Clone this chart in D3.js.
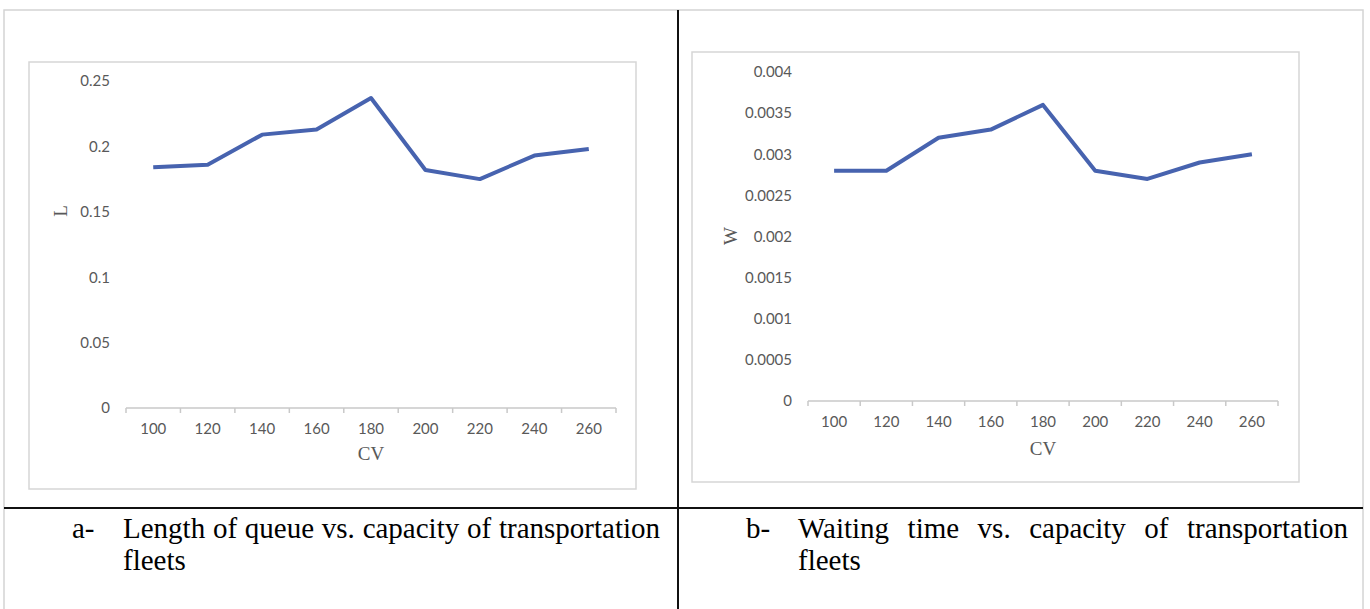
<!DOCTYPE html>
<html>
<head>
<meta charset="utf-8">
<script src="https://cdn.jsdelivr.net/npm/d3@7/dist/d3.min.js"></script>
<style>
  html, body { margin: 0; padding: 0; background: #fff; }
  svg { display: block; }
</style>
</head>
<body>
<svg id="fig" width="1370" height="609"></svg>
<script>
// Capacity of transportation fleets (CV)
const cvValues = [100, 120, 140, 160, 180, 200, 220, 240, 260];
// Length of queue L for each capacity
const queueLength = [0.184, 0.186, 0.209, 0.213, 0.237, 0.182, 0.175, 0.193, 0.198];
// Waiting time W for each capacity
const waitingTime = [0.0028, 0.0028, 0.0032, 0.0033, 0.0036, 0.0028, 0.0027, 0.0029, 0.0030];

const lTicks = [0, 0.05, 0.1, 0.15, 0.2, 0.25];
const lTickLabels = ["0", "0.05", "0.1", "0.15", "0.2", "0.25"];
const wTicks = [0, 0.0005, 0.001, 0.0015, 0.002, 0.0025, 0.003, 0.0035, 0.004];
const wTickLabels = ["0", "0.0005", "0.001", "0.0015", "0.002", "0.0025", "0.003", "0.0035", "0.004"];

const captionA = ["a-", "Length of queue vs. capacity of transportation", "fleets"];
const captionB = ["b-", "Waiting time vs. capacity of transportation", "fleets"];

const svg = d3.select("#fig");
const LINE = "#4763af";
const GREY_TEXT = "#595959";
const SERIF = '"Liberation Serif", "Times New Roman", "DejaVu Serif", serif';
const SANS = 'Lato, "Open Sans", sans-serif';

// ---- table frame ----
const frame = svg.append("g");
frame.append("rect").attr("x", 4).attr("y", 10).attr("width", 1359).attr("height", 620)
  .attr("fill", "none").attr("stroke", "#d4d4d4").attr("stroke-width", 1.5);
frame.append("line").attr("x1", 678).attr("x2", 678).attr("y1", 10).attr("y2", 609)
  .attr("stroke", "#111").attr("stroke-width", 2);
frame.append("line").attr("x1", 4).attr("x2", 1363).attr("y1", 508).attr("y2", 508)
  .attr("stroke", "#111").attr("stroke-width", 2);

function drawChart(cfg) {
  const g = svg.append("g");
  // chart area border
  g.append("rect").attr("x", cfg.box[0]).attr("y", cfg.box[1])
    .attr("width", cfg.box[2] - cfg.box[0]).attr("height", cfg.box[3] - cfg.box[1])
    .attr("fill", "#fff").attr("stroke", "#d6d6d6").attr("stroke-width", 1.5);

  const x = d3.scaleBand().domain(cvValues).range(cfg.xRange).padding(0);
  const y = d3.scaleLinear().domain([0, cfg.yMax]).range(cfg.yRange);
  const y0 = y(0);

  // y tick labels
  const yAxis = d3.axisLeft(y).tickValues(cfg.ticks).tickSize(0).tickPadding(16)
    .tickFormat((d, i) => cfg.tickLabels[i]);
  const ya = g.append("g").attr("transform", `translate(${cfg.xRange[0]},0)`).call(yAxis);
  ya.select(".domain").remove();
  ya.selectAll("text").style("font-family", SANS).style("font-size", "15px").attr("fill", GREY_TEXT);

  // x axis: baseline with boundary ticks, labels centred in each band
  g.append("line").attr("x1", cfg.xRange[0]).attr("x2", cfg.xRange[1])
    .attr("y1", y0).attr("y2", y0).attr("stroke", "#c9c9c9").attr("stroke-width", 1.5);
  const bounds = cvValues.map(v => x(v)).concat([cfg.xRange[1]]);
  g.selectAll("line.bt").data(bounds).join("line").attr("class", "bt")
    .attr("x1", d => d).attr("x2", d => d).attr("y1", y0).attr("y2", y0 + 5)
    .attr("stroke", "#c9c9c9").attr("stroke-width", 1.5);
  const xAxis = d3.axisBottom(x).tickSize(0).tickPadding(cfg.xLabelPad);
  const xa = g.append("g").attr("transform", `translate(0,${y0})`).call(xAxis);
  xa.select(".domain").remove();
  xa.selectAll("text").style("font-family", SANS).style("font-size", "15px").attr("fill", GREY_TEXT);

  // axis titles
  g.append("text").attr("x", d3.mean(cfg.xRange)).attr("y", cfg.cvY)
    .attr("text-anchor", "middle").style("font-family", SERIF).style("font-size", "19px")
    .attr("fill", GREY_TEXT).text("CV");
  g.append("text")
    .attr("transform", `translate(${cfg.yTitle[0]},${cfg.yTitle[1]}) rotate(-90)`)
    .attr("text-anchor", "middle").attr("dominant-baseline", "central")
    .style("font-family", SERIF).style("font-size", "19px").attr("fill", GREY_TEXT).text(cfg.yName);

  // data line
  const line = d3.line().x((d, i) => x(cvValues[i]) + x.bandwidth() / 2).y(d => y(d));
  g.append("path").datum(cfg.values).attr("d", line)
    .attr("fill", "none").attr("stroke", LINE).attr("stroke-width", 4)
    .attr("stroke-linejoin", "round").attr("stroke-linecap", "butt");
}

drawChart({
  box: [29, 62, 636, 489], xRange: [126, 616], yRange: [408, 81], yMax: 0.25,
  ticks: lTicks, tickLabels: lTickLabels, values: queueLength,
  xLabelPad: 15, cvY: 460, yTitle: [60, 211], yName: "L"
});
drawChart({
  box: [692, 52, 1299, 482], xRange: [808, 1278], yRange: [401, 72], yMax: 0.004,
  ticks: wTicks, tickLabels: wTickLabels, values: waitingTime,
  xLabelPad: 15, cvY: 455, yTitle: [730, 236], yName: "W"
});

// ---- captions: first line justified between the text margins ----
function caption(parts, labelX, textX, textRight) {
  const g = svg.append("g");
  const txt = (s, xPos, yPos) => g.append("text").attr("x", xPos).attr("y", yPos)
    .style("font-family", SERIF).style("font-size", "29px").attr("fill", "#000").text(s);
  txt(parts[0], labelX, 538);
  const words = parts[1].split(" ");
  const nodes = words.map(w => txt(w, 0, 538));
  const widths = nodes.map(n => n.node().getComputedTextLength());
  const gap = (textRight - textX - d3.sum(widths)) / (words.length - 1);
  let cx = textX;
  nodes.forEach((n, i) => { n.attr("x", cx); cx += widths[i] + gap; });
  txt(parts[2], textX, 570);
}
caption(captionA, 72, 123, 660);
caption(captionB, 746, 798, 1348);
</script>
</body>
</html>
